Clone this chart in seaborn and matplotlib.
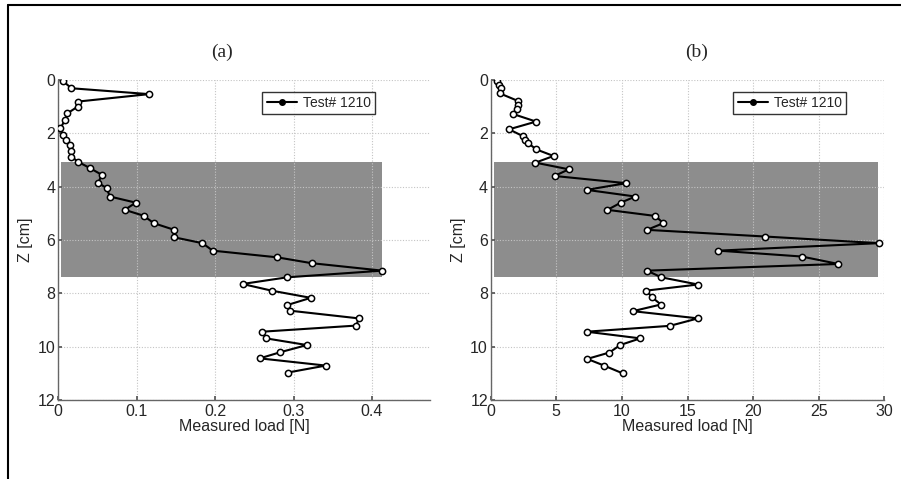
import matplotlib
matplotlib.use('Agg')
import matplotlib.pyplot as plt
from matplotlib.lines import Line2D
import seaborn as sns
import pandas as pd

# depth of each reading [cm]
z_a = [0.03, 0.31, 0.53, 0.81, 1.0, 1.25, 1.5, 1.81, 2.06, 2.25, 2.44, 2.65,
       2.87, 3.06, 3.31, 3.56, 3.85, 4.06, 4.37, 4.6, 4.87, 5.09, 5.37, 5.62,
       5.9, 6.12, 6.4, 6.65, 6.87, 7.15, 7.4, 7.65, 7.9, 8.17, 8.44, 8.65,
       8.94, 9.21, 9.44, 9.69, 9.94, 10.21, 10.44, 10.71, 10.97]
# measured load, panel (a) [N]
load_a = [0.006, 0.017, 0.116, 0.025, 0.025, 0.012, 0.009, 0.003, 0.006, 0.010,
          0.015, 0.017, 0.017, 0.025, 0.041, 0.056, 0.051, 0.062, 0.066, 0.099,
          0.085, 0.109, 0.122, 0.148, 0.148, 0.184, 0.197, 0.279, 0.323, 0.413,
          0.292, 0.235, 0.272, 0.322, 0.292, 0.295, 0.383, 0.380, 0.260, 0.265,
          0.317, 0.283, 0.257, 0.341, 0.293]

z_b = [0.03, 0.19, 0.31, 0.5, 0.78, 0.94, 1.1, 1.27, 1.56, 1.85, 2.1, 2.25,
       2.35, 2.6, 2.85, 3.1, 3.35, 3.6, 3.87, 4.12, 4.37, 4.6, 4.87, 5.1, 5.37,
       5.62, 5.87, 6.12, 6.4, 6.62, 6.9, 7.15, 7.4, 7.67, 7.9, 8.15, 8.42, 8.67,
       8.94, 9.22, 9.44, 9.69, 9.94, 10.22, 10.46, 10.71, 11.0]
# measured load, panel (b) [N]
load_b = [0.51, 0.64, 0.77, 0.69, 2.05, 2.05, 1.97, 1.67, 3.46, 1.4, 2.43, 2.64,
          2.82, 3.46, 4.79, 3.41, 5.95, 4.87, 10.33, 7.31, 11.02, 9.92, 8.9,
          12.56, 13.15, 11.92, 20.9, 29.56, 17.36, 23.7, 26.5, 11.92, 13.0,
          15.8, 11.85, 12.3, 12.97, 10.83, 15.8, 13.66, 7.31, 11.4, 9.87, 9.05,
          7.36, 8.64, 10.05]

# shaded depth zone and its horizontal extent in each panel
band_z = (3.08, 7.37)
band_a = (0.004, 0.413)
band_b = (0.25, 29.5)

sns.set_theme(style="ticks")
plt.rcParams['font.family'] = ['Liberation Sans', 'DejaVu Sans']

fig = plt.figure(figsize=(9.01, 4.79), dpi=100)
ax_a = fig.add_axes([0.0644, 0.165, 0.413, 0.668])
ax_b = fig.add_axes([0.5446, 0.165, 0.4369, 0.668])

panels = [
    (ax_a, load_a, z_a, band_a, (0, 0.474), [0, 0.1, 0.2, 0.3, 0.4], '(a)', 222),
    (ax_b, load_b, z_b, band_b, (0, 30), [0, 5, 10, 15, 20, 25, 30], '(b)', 697),
]

for ax, load, z, band_x, xlim, xticks, tag, tag_x in panels:
    df = pd.DataFrame({'load': load, 'z': z})
    ax.fill_betweenx(band_z, band_x[0], band_x[1], color='#8d8d8d',
                     linewidth=0, zorder=1)
    sns.lineplot(data=df, x='load', y='z', sort=False, estimator=None,
                 color='black', linewidth=1.5, marker='o', markersize=4.5,
                 markerfacecolor='white', markeredgecolor='black',
                 markeredgewidth=1.1, ax=ax, zorder=3)
    ax.set_xlim(*xlim)
    ax.set_ylim(12, 0)
    ax.set_xticks(xticks)
    ax.set_xticklabels([f'{t:g}' for t in xticks])
    ax.set_yticks([0, 2, 4, 6, 8, 10, 12])
    ax.set_axisbelow('line')
    ax.grid(True, linestyle=(0, (1, 1.5)), color='#c4c4c4', linewidth=0.8)
    ax.tick_params(direction='in', length=3, labelsize=11.5, color='#555555')
    ax.tick_params(axis='x', pad=3)
    ax.tick_params(axis='y', pad=2)
    for side in ['top', 'right']:
        ax.spines[side].set_visible(False)
    for side in ['left', 'bottom']:
        ax.spines[side].set_color('#666666')
        ax.spines[side].set_linewidth(1.0)
    ax.set_xlabel('Measured load [N]', fontsize=11.5, labelpad=0)
    ax.set_ylabel('Z [cm]', fontsize=11.5, labelpad=3)

    handle = Line2D([], [], color='black', linewidth=1.5, marker='o',
                    markersize=4, markerfacecolor='black')
    leg = ax.legend([handle], ['Test# 1210'], loc='upper right',
                    bbox_to_anchor=(0.87, 0.985) if tag == '(a)' else (0.92, 0.985),
                    fontsize=10, frameon=True, fancybox=False,
                    handlelength=2.2, borderpad=0.3, handletextpad=0.4)
    leg.get_frame().set_edgecolor('black')
    leg.get_frame().set_linewidth(1.0)

    fig.text(tag_x / 901, 1 - 52 / 479, tag, ha='center', va='center',
             fontsize=14, family='Liberation Serif')

# outer frame (top and left edges)
fig.add_artist(Line2D([0.0089, 1.0], [0.9896, 0.9896], color='black',
                      linewidth=1.5, transform=fig.transFigure))
fig.add_artist(Line2D([0.0089, 0.0089], [0.0, 0.9896], color='black',
                      linewidth=1.5, transform=fig.transFigure))

fig.savefig('out.png', dpi=100)
